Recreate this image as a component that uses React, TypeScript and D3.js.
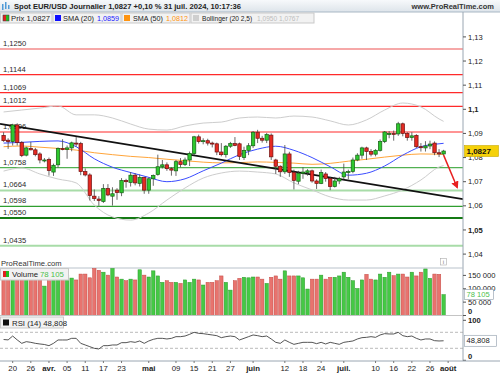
import React from 'react';
import * as d3 from 'd3';

// EUR/USD daily, 18 mars -> 31 juil. 2024 (one entry per trading day)
const opens = [
  1.0892, 1.0872, 1.0866, 1.0935, 1.0862, 1.0810, 1.0838, 1.0832, 1.0815, 1.0786,
  1.0792, 1.0740, 1.0770, 1.0837, 1.0834, 1.0840, 1.0860, 1.0858, 1.0742, 1.0728,
  1.0640, 1.0628, 1.0618, 1.0672, 1.0640, 1.0665, 1.0654, 1.0705, 1.0697, 1.0727,
  1.0693, 1.0718, 1.0665, 1.0712, 1.0730, 1.0762, 1.0770, 1.0754, 1.0745, 1.0783,
  1.0771, 1.0790, 1.0817, 1.0886, 1.0866, 1.0870, 1.0860, 1.0857, 1.0823, 1.0812,
  1.0847, 1.0858, 1.0857, 1.0800, 1.0830, 1.0849, 1.0905, 1.0880, 1.0872, 1.0893,
  1.0790, 1.0764, 1.0741, 1.0815, 1.0738, 1.0702, 1.0735, 1.0738, 1.0745, 1.0703,
  1.0693, 1.0732, 1.0713, 1.0680, 1.0703, 1.0720, 1.0738, 1.0742, 1.0790, 1.0810,
  1.0840, 1.0825, 1.0814, 1.0830, 1.0866, 1.0895, 1.0900, 1.0898, 1.0940, 1.0900,
  1.0883, 1.0892, 1.0845, 1.0840, 1.0848, 1.0860, 1.0820, 1.0815,
];
const highs = [
  1.0905, 1.0880, 1.0940, 1.0942, 1.0868, 1.0845, 1.0865, 1.0840, 1.0822, 1.0798,
  1.0800, 1.0775, 1.0842, 1.0876, 1.0850, 1.0866, 1.0885, 1.0865, 1.0755, 1.0735,
  1.0668, 1.0640, 1.0690, 1.0690, 1.0677, 1.0673, 1.0715, 1.0712, 1.0740, 1.0735,
  1.0730, 1.0720, 1.0718, 1.0730, 1.0812, 1.0790, 1.0780, 1.0760, 1.0790, 1.0798,
  1.0800, 1.0825, 1.0890, 1.0895, 1.0880, 1.0878, 1.0866, 1.0862, 1.0860, 1.0852,
  1.0865, 1.0885, 1.0862, 1.0845, 1.0860, 1.0910, 1.0915, 1.0890, 1.0902, 1.0900,
  1.0795, 1.0768, 1.0852, 1.0824, 1.0750, 1.0745, 1.0760, 1.0752, 1.0750, 1.0710,
  1.0750, 1.0740, 1.0720, 1.0720, 1.0720, 1.0775, 1.0750, 1.0800, 1.0818, 1.0845,
  1.0845, 1.0835, 1.0835, 1.0875, 1.0910, 1.0910, 1.0912, 1.0948, 1.0945, 1.0905,
  1.0905, 1.0897, 1.0860, 1.0868, 1.0870, 1.0867, 1.0835, 1.0832,
];
const lows = [
  1.0865, 1.0836, 1.0850, 1.0850, 1.0802, 1.0805, 1.0830, 1.0805, 1.0776, 1.0780,
  1.0725, 1.0724, 1.0758, 1.0830, 1.0795, 1.0826, 1.0845, 1.0727, 1.0722, 1.0622,
  1.0620, 1.0600, 1.0612, 1.0640, 1.0601, 1.0625, 1.0640, 1.0675, 1.0680, 1.0685,
  1.0680, 1.0650, 1.0650, 1.0683, 1.0725, 1.0755, 1.0745, 1.0725, 1.0724, 1.0760,
  1.0765, 1.0765, 1.0810, 1.0858, 1.0855, 1.0850, 1.0842, 1.0810, 1.0805, 1.0800,
  1.0840, 1.0847, 1.0790, 1.0790, 1.0810, 1.0840, 1.0860, 1.0862, 1.0860, 1.0790,
  1.0732, 1.0720, 1.0732, 1.0720, 1.0668, 1.0690, 1.0712, 1.0725, 1.0696, 1.0670,
  1.0690, 1.0700, 1.0665, 1.0676, 1.0690, 1.0710, 1.0710, 1.0735, 1.0785, 1.0795,
  1.0790, 1.0805, 1.0805, 1.0825, 1.0860, 1.0880, 1.0870, 1.0890, 1.0888, 1.0870,
  1.0870, 1.0840, 1.0825, 1.0825, 1.0835, 1.0810, 1.0802, 1.0808,
];
const closes = [
  1.0870, 1.0866, 1.0935, 1.0862, 1.0808, 1.0840, 1.0832, 1.0812, 1.0790, 1.0790,
  1.0746, 1.0768, 1.0838, 1.0835, 1.0840, 1.0861, 1.0856, 1.0742, 1.0728, 1.0643,
  1.0630, 1.0622, 1.0672, 1.0645, 1.0650, 1.0655, 1.0705, 1.0700, 1.0727, 1.0695,
  1.0718, 1.0665, 1.0712, 1.0726, 1.0762, 1.0770, 1.0754, 1.0748, 1.0783, 1.0771,
  1.0790, 1.0817, 1.0886, 1.0866, 1.0870, 1.0860, 1.0856, 1.0823, 1.0812, 1.0847,
  1.0858, 1.0850, 1.0805, 1.0830, 1.0849, 1.0905, 1.0880, 1.0872, 1.0895, 1.0803,
  1.0764, 1.0741, 1.0815, 1.0738, 1.0705, 1.0735, 1.0740, 1.0745, 1.0703, 1.0693,
  1.0738, 1.0713, 1.0680, 1.0703, 1.0712, 1.0740, 1.0742, 1.0790, 1.0810, 1.0840,
  1.0825, 1.0814, 1.0830, 1.0866, 1.0906, 1.0900, 1.0898, 1.0940, 1.0900, 1.0883,
  1.0890, 1.0845, 1.0843, 1.0848, 1.0856, 1.0820, 1.0815, 1.0827,
];
const volumes = [
  155000, 150000, 165000, 170000, 160000, 140000, 145000, 150000, 155000, 110000,
  130000, 131000, 149000, 149000, 149000, 140000, 133000, 155000, 155000, 141000,
  176000, 169000, 162000, 151000, 176000, 144000, 136000, 130000, 136000, 133000,
  171000, 151000, 144000, 167000, 148000, 124000, 130000, 124000, 124000, 120000,
  133000, 124000, 136000, 133000, 114000, 124000, 124000, 130000, 148000, 124000,
  95000, 130000, 139000, 143000, 141000, 144000, 144000, 136000, 120000, 143000,
  148000, 136000, 167000, 148000, 148000, 148000, 141000, 99000, 136000, 136000,
  151000, 136000, 143000, 143000, 148000, 162000, 143000, 130000, 101000, 133000,
  154000, 136000, 133000, 155000, 143000, 162000, 149000, 155000, 155000, 144000,
  162000, 148000, 162000, 174000, 139000, 155000, 154000, 78105,
];
const rsi = [
  52, 51, 60.7, 51, 42.4, 46.6, 44.9, 42.4, 40.8, 39.5,
  36.6, 42.4, 50.8, 50.8, 50.8, 54.9, 54.9, 42.4, 38.3, 34.1,
  29.9, 28.3, 36.6, 36.6, 38.3, 38.3, 44.1, 44.1, 46.6, 44.9,
  48.3, 42.4, 48.3, 52.4, 54.9, 54.9, 53.3, 54.9, 59.1, 59.1,
  60.7, 64.9, 69.9, 67.4, 66.6, 64.9, 63.3, 61.6, 56.6, 59.1,
  60.7, 59.1, 50.8, 54.9, 59.1, 63.3, 61.6, 59.1, 60.7, 53.3,
  44.9, 42.4, 50.8, 44.9, 39.9, 42.4, 44.9, 44.9, 44.9, 41.6,
  44.9, 40.8, 44.9, 42.4, 39.9, 44.9, 46.6, 48.3, 53.3, 56.6,
  57.4, 59.1, 57.4, 63.3, 66.6, 65.8, 65.8, 69.9, 61.6, 59.1,
  60.7, 54.9, 50.8, 53.3, 53.3, 49.1, 48.3, 48.808,
];

// indicators every 4 sessions
const sampleIdx = [0, 4, 8, 12, 16, 20, 24, 28, 32, 36, 40, 44, 48, 52, 56, 60, 64, 68, 72, 76, 80, 84, 88, 92, 96, 97];
const sma20 = [1.0860, 1.0863, 1.0867, 1.0869, 1.0845, 1.0795, 1.0760, 1.0738, 1.0718, 1.0700, 1.0712, 1.0745, 1.0777,
  1.0812, 1.0835, 1.0847, 1.0830, 1.0800, 1.0762, 1.0727, 1.0735, 1.0765, 1.0810, 1.0845, 1.0857, 1.0859];
const sma50 = [1.0845, 1.0848, 1.0843, 1.0838, 1.0831, 1.0820, 1.0812, 1.0805, 1.0800, 1.0793, 1.0787, 1.0781, 1.0778,
  1.0779, 1.0782, 1.0780, 1.0777, 1.0772, 1.0776, 1.0785, 1.0793, 1.0802, 1.0810, 1.0815, 1.0814, 1.0812];
const bbUpper = [1.0989, 1.0997, 1.1005, 1.1014, 1.0977, 1.0977, 1.0964, 1.0939, 1.0918, 1.0914, 1.0931, 1.0943, 1.0947,
  1.0964, 1.0968, 1.0964, 1.0972, 1.0968, 1.0952, 1.0935, 1.0956, 1.0997, 1.1026, 1.1010, 1.0960, 1.0950];
const bbLower = [1.0744, 1.0757, 1.0732, 1.0711, 1.0695, 1.0603, 1.0554, 1.0541, 1.0570, 1.0624, 1.0674, 1.0715, 1.0736,
  1.0744, 1.0740, 1.0732, 1.0695, 1.0666, 1.0637, 1.0624, 1.0624, 1.0641, 1.0666, 1.0707, 1.0761, 1.0767];

const resistLevels = [1.1250, 1.1144, 1.1069, 1.1012, 1.0906];
const supportLevels = [1.0758, 1.0664, 1.0598, 1.0550, 1.0435];
const trendIdx = [0, 97];
const trendPrice = [1.0937, 1.0641];
const arrowIdx = [97, 100];
const arrowPrice = [1.0810, 1.0676];

const priceTicks = [1.04, 1.05, 1.06, 1.07, 1.08, 1.09, 1.1, 1.11, 1.12, 1.13];
const volTicks = [0, 50000, 100000, 150000];
const rsiTicks = [0, 100];
const rsiGuides = [30, 70];
const xTickIdx = [2, 6, 10, 14, 18, 22, 26, 32, 38, 42, 46, 50, 55, 62, 66, 70, 75, 82, 86, 90, 94, 98];
const xTickLabels = ['20', '26', 'avr.', '05', '11', '17', '23', 'mai', '09', '15', '21', '27', 'juin', '12', '18', '24', 'juil.', '10', '16', '22', '26', 'août'];
const monthLabels = ['avr.', 'mai', 'juin', 'juil.', 'août'];

const lastPrice = 1.0827;
const lastVolume = 78105;
const lastRsi = 48.808;

const FONT = '"Liberation Sans", Arial, sans-serif';
const resistStyle = [
  { c: '#f6a8a8', w: 2 },
  { c: '#ff2a2a', w: 1.2 },
  { c: '#ff2a2a', w: 1.2 },
  { c: '#ff2a2a', w: 1.2 },
  { c: '#ff2a2a', w: 1.2 },
];
const supportStyle = [
  { c: '#52b152', w: 1.2 },
  { c: '#a8dca8', w: 2 },
  { c: '#2f9e2f', w: 1.2 },
  { c: '#147a14', w: 2 },
  { c: '#a8dca8', w: 2 },
];

const fmtPrice = (v: number) => d3.format('.4f')(v).replace('.', ',');
const fmtTick = (v: number) => d3.format('.2~f')(v).replace('.', ',');
const fmtVol = (v: number) => d3.format(',')(v).replace(/,/g, ' ');

export default function App() {
  const axisX = 463;
  const mainTop = 23, mainBottom = 258;
  const volTop = 268, volBase = 315.5;
  const rsiBottom = 361;

  const x = d3.scaleLinear().domain([0, 97]).range([3.6, 443.6]);
  const y = d3.scaleLinear().domain([1.04, 1.13]).range([254.1, 36.9]);
  const yv = d3.scaleLinear().domain([0, 150000]).range([volBase, 275.4]);
  const yr = d3.scaleLinear().domain([0, 100]).range([360.3, 320.3]);

  const smooth = d3.line<[number, number]>().x(d => x(d[0])).y(d => y(d[1])).curve(d3.curveMonotoneX);
  const pts = (vals: number[]) => sampleIdx.map((k, j) => [k, vals[j]] as [number, number]);
  const rsiLine = d3.line<number>().x((_, i) => x(i)).y(d => yr(d));

  // trend line extended across the whole panel
  const slope = (trendPrice[1] - trendPrice[0]) / (trendIdx[1] - trendIdx[0]);
  const i0 = x.invert(0), i1 = x.invert(axisX);
  const tp0 = trendPrice[0] + slope * (i0 - trendIdx[0]);
  const tp1 = trendPrice[0] + slope * (i1 - trendIdx[0]);

  const levels = [
    ...resistLevels.map((v, i) => ({ v, ...resistStyle[i] })),
    ...supportLevels.map((v, i) => ({ v, ...supportStyle[i] })),
  ];

  return (
    <div style={{ position: 'fixed', left: 0, top: 0 }}>
      <svg width={500} height={375} style={{ display: 'block', fontFamily: FONT }}>
        <defs>
          <linearGradient id="hdr" x1="0" y1="0" x2="0" y2="1">
            <stop offset="0" stopColor="#f7f9fb" />
            <stop offset="1" stopColor="#dde4ea" />
          </linearGradient>
          <clipPath id="mainClip"><rect x={0} y={mainTop} width={axisX} height={mainBottom - mainTop} /></clipPath>
          <clipPath id="volClip"><rect x={0} y={volTop} width={axisX} height={volBase - volTop} /></clipPath>
          <clipPath id="axisClip"><rect x={axisX} y={mainTop} width={40} height={mainBottom - mainTop} /></clipPath>
          <marker id="arrowHead" viewBox="0 0 10 10" refX="8" refY="5" markerWidth="5" markerHeight="5" orient="auto">
            <path d="M0,0 L10,5 L0,10 z" fill="#e82020" />
          </marker>
        </defs>
        <rect width={500} height={375} fill="#fff" />

        {/* header */}
        <rect x={0} y={0} width={500} height={12} fill="url(#hdr)" />
        <line x1={0} x2={500} y1={12} y2={12} stroke="#a9b7c4" />
        <g fill="#4f9ad8">
          <rect x={2} y={4} width={1.5} height={6} />
          <rect x={5} y={2} width={1.5} height={7} />
          <rect x={8} y={5} width={1.5} height={4} />
        </g>
        <text x={14} y={9.3} fontSize={8} fontWeight="bold" fill="#222" textLength={227} lengthAdjust="spacingAndGlyphs">
          Spot EUR/USD Journalier 1,0827 +0,10 % 31 juil. 2024, 10:17:36
        </text>
        <text x={494} y={9.3} fontSize={7.5} fontWeight="bold" fill="#333" textAnchor="end">www.ProRealTime.com</text>

        {/* legend row */}
        <g fontSize={7.4} fill="#222">
          <rect x={0.5} y={13} width={51.5} height={10} fill="#f2f2f2" stroke="#c9c9c9" />
          <rect x={3} y={15} width={3} height={6} fill="#e02020" />
          <rect x={6} y={15} width={3} height={6} fill="#22bb22" />
          <rect x={3} y={15} width={6} height={6} fill="none" stroke="#444" strokeWidth={0.6} />
          <text x={11} y={20.8} textLength={39} lengthAdjust="spacingAndGlyphs">Prix {fmtPrice(lastPrice)}</text>

          <rect x={53} y={13} width={68} height={10} fill="#f2f2f2" stroke="#c9c9c9" />
          <rect x={55} y={15} width={6} height={6} fill="#1010ff" />
          <text x={63} y={20.8} textLength={31} lengthAdjust="spacingAndGlyphs">SMA (20)</text>
          <text x={97} y={20.8} fill="#1a1aff" textLength={22} lengthAdjust="spacingAndGlyphs">{fmtPrice(sma20[sma20.length - 1])}</text>

          <rect x={122} y={13} width={68} height={10} fill="#f2f2f2" stroke="#c9c9c9" />
          <rect x={124} y={15} width={6} height={6} fill="#ff9410" />
          <text x={133} y={20.8} textLength={30} lengthAdjust="spacingAndGlyphs">SMA (50)</text>
          <text x={166} y={20.8} fill="#ff9410" textLength={22} lengthAdjust="spacingAndGlyphs">{fmtPrice(sma50[sma50.length - 1])}</text>

          <rect x={191} y={13} width={123} height={10} fill="#f2f2f2" stroke="#c9c9c9" />
          <rect x={193} y={15} width={6} height={6} fill="#cfcfcf" />
          <text x={202} y={20.8} fontSize={6.6}>Bollinger (20 2,5)</text>
          <text x={257} y={20.8} fill="#bdbdbd" fontSize={6.6}>
            {fmtPrice(bbUpper[bbUpper.length - 1])} {fmtPrice(bbLower[bbLower.length - 1])}
          </text>
        </g>

        {/* price panel */}
        <g clipPath="url(#mainClip)">
          {levels.map((l, i) => (
            <line key={'lv' + i} x1={0} x2={axisX} y1={y(l.v)} y2={y(l.v)} stroke={l.c} strokeWidth={l.w} />
          ))}
          {levels.map((l, i) => (
            <text key={'lt' + i} x={3} y={y(l.v) - 3} fontSize={7.6} fill="#2a2a2a">{fmtPrice(l.v)}</text>
          ))}
          <path d={smooth(pts(bbUpper)) || ''} fill="none" stroke="#cdcdcd" strokeWidth={1} />
          <path d={smooth(pts(bbLower)) || ''} fill="none" stroke="#cdcdcd" strokeWidth={1} />
          <path d={smooth(pts(sma50)) || ''} fill="none" stroke="#ffa53a" strokeWidth={1} />
          <path d={smooth(pts(sma20)) || ''} fill="none" stroke="#3a4cff" strokeWidth={1} />
          <line x1={0} x2={axisX} y1={y(tp0)} y2={y(tp1)} stroke="#111" strokeWidth={1.7} />
          {opens.map((o, i) => {
            const c = closes[i];
            const up = c >= o;
            const top = y(Math.max(o, c));
            const h = Math.max(1, Math.abs(y(o) - y(c)));
            return (
              <g key={'c' + i}>
                <line x1={x(i)} x2={x(i)} y1={y(highs[i])} y2={y(lows[i])} stroke="#444" strokeWidth={0.8} />
                <rect x={x(i) - 1.7} y={top} width={3.4} height={h}
                  fill={up ? '#2ec82e' : '#e42a22'} stroke={up ? '#145f14' : '#6e1010'} strokeWidth={0.7} />
              </g>
            );
          })}
          <line x1={x(arrowIdx[0])} y1={y(arrowPrice[0])} x2={x(arrowIdx[1])} y2={y(arrowPrice[1])}
            stroke="#e82020" strokeWidth={1.5} markerEnd="url(#arrowHead)" />
        </g>

        {/* right axis */}
        <line x1={axisX} x2={axisX} y1={12} y2={rsiBottom} stroke="#9aa6b2" />
        <g clipPath="url(#axisClip)" fontSize={7.6} fill="#222">
          {priceTicks.map(t => (
            <g key={'pt' + t}>
              <line x1={axisX} x2={axisX + 3} y1={y(t)} y2={y(t)} stroke="#555" />
              <text x={axisX + 5} y={y(t)} dy="0.35em"
                fontWeight={Math.abs(t - 1.1) < 1e-9 || Math.abs(t - 1.05) < 1e-9 ? 'bold' : 'normal'}>{fmtTick(t)}</text>
            </g>
          ))}
        </g>
        <rect x={axisX + 1.5} y={y(lastPrice) - 5.5} width={34} height={11} fill="#f5d10a" stroke="#c9a800" strokeWidth={0.6} />
        <text x={axisX + 3.5} y={y(lastPrice)} dy="0.36em" fontSize={8} fontWeight="bold" fill="#111">{fmtPrice(lastPrice)}</text>

        {/* separator strip */}
        <text x={1} y={266} fontSize={7.6} fill="#333">ProRealTime.com</text>
        <rect x={440.5} y={258.5} width={6} height={6.5} fill="#fff" stroke="#aaa" strokeWidth={0.6} />
        <text x={443.5} y={264} fontSize={6} fill="#777" textAnchor="middle">i</text>

        {/* volume panel */}
        <line x1={0} x2={axisX} y1={volTop} y2={volTop} stroke="#b9c2cb" />
        <g clipPath="url(#volClip)">
          {volumes.map((v, i) => {
            const up = closes[i] >= opens[i];
            return (
              <rect key={'v' + i} x={x(i) - 1.7} y={yv(v)} width={3.4} height={volBase - yv(v)}
                fill={up ? '#45c945' : '#e8736e'} stroke={up ? '#2a9a2a' : '#c44a44'} strokeWidth={0.5} />
            );
          })}
        </g>
        <line x1={0} x2={axisX} y1={volBase} y2={volBase} stroke="#c4c4c4" />
        <rect x={0.5} y={268.5} width={68} height={11.5} fill="#f2f2f2" stroke="#c9c9c9" />
        <rect x={3} y={271} width={3} height={6} fill="#e02020" />
        <rect x={6} y={271} width={3} height={6} fill="#22bb22" />
        <text x={12} y={277.3} fontSize={7.8} fill="#222">Volume</text>
        <text x={40} y={277.3} fontSize={7.8} fill="#4cbf4c">{fmtVol(lastVolume)}</text>
        <g fontSize={7.6} fill="#222">
          {volTicks.map(t => (
            <g key={'vt' + t}>
              <line x1={axisX} x2={axisX + 3} y1={yv(t)} y2={yv(t)} stroke="#555" />
              <text x={axisX + 5} y={t === 0 ? yv(t) - 4 : yv(t)} dy="0.35em" fontWeight={t === 0 ? 'bold' : 'normal'}>{fmtVol(t)}</text>
            </g>
          ))}
        </g>
        <rect x={axisX + 1.5} y={yv(lastVolume) - 5} width={29} height={10} fill="#fff" stroke="#8d9aa8" strokeWidth={0.6} />
        <text x={axisX + 3.5} y={yv(lastVolume)} dy="0.35em" fontSize={7.6} fill="#4cbf4c">{fmtVol(lastVolume)}</text>

        {/* RSI panel */}
        {rsiGuides.map(g => (
          <line key={'rg' + g} x1={0} x2={axisX} y1={yr(g)} y2={yr(g)} stroke="#9c9c9c" strokeWidth={0.7} strokeDasharray="3,2" />
        ))}
        <path d={rsiLine(rsi) || ''} fill="none" stroke="#2a2a2a" strokeWidth={0.8} />
        <rect x={0.5} y={317} width={63} height={11} fill="#f2f2f2" stroke="#c9c9c9" />
        <rect x={3} y={319.5} width={6} height={6} fill="#111" />
        <text x={12} y={325.8} fontSize={7.8} fill="#222">RSI (14) {d3.format('.3f')(lastRsi).replace('.', ',')}</text>
        <g fontSize={7.6} fill="#222" fontWeight="bold">
          {rsiTicks.map(t => (
            <g key={'rt' + t}>
              <line x1={axisX} x2={axisX + 3} y1={yr(t)} y2={yr(t)} stroke="#555" />
              <text x={axisX + 5} y={t === 0 ? yr(t) - 3.5 : yr(t)} dy="0.35em">{t}</text>
            </g>
          ))}
        </g>
        <rect x={axisX + 1.5} y={yr(lastRsi) - 5.5} width={32} height={11} fill="#fff" stroke="#8d9aa8" strokeWidth={0.6} />
        <text x={axisX + 3.5} y={yr(lastRsi)} dy="0.35em" fontSize={7.6} fill="#222">{d3.format('.3f')(lastRsi).replace('.', ',')}</text>

        {/* date axis */}
        <line x1={0} x2={500} y1={rsiBottom} y2={rsiBottom} stroke="#9aa6b2" />
        <g fontSize={7.8} fill="#222" textAnchor="middle">
          {xTickIdx.map((k, j) => (
            <g key={'xt' + j}>
              <line x1={x(k)} x2={x(k)} y1={rsiBottom} y2={rsiBottom + 2} stroke="#777" />
              <text x={x(k)} y={371} fontWeight={monthLabels.includes(xTickLabels[j]) ? 'bold' : 'normal'}>{xTickLabels[j]}</text>
            </g>
          ))}
        </g>
      </svg>
    </div>
  );
}
